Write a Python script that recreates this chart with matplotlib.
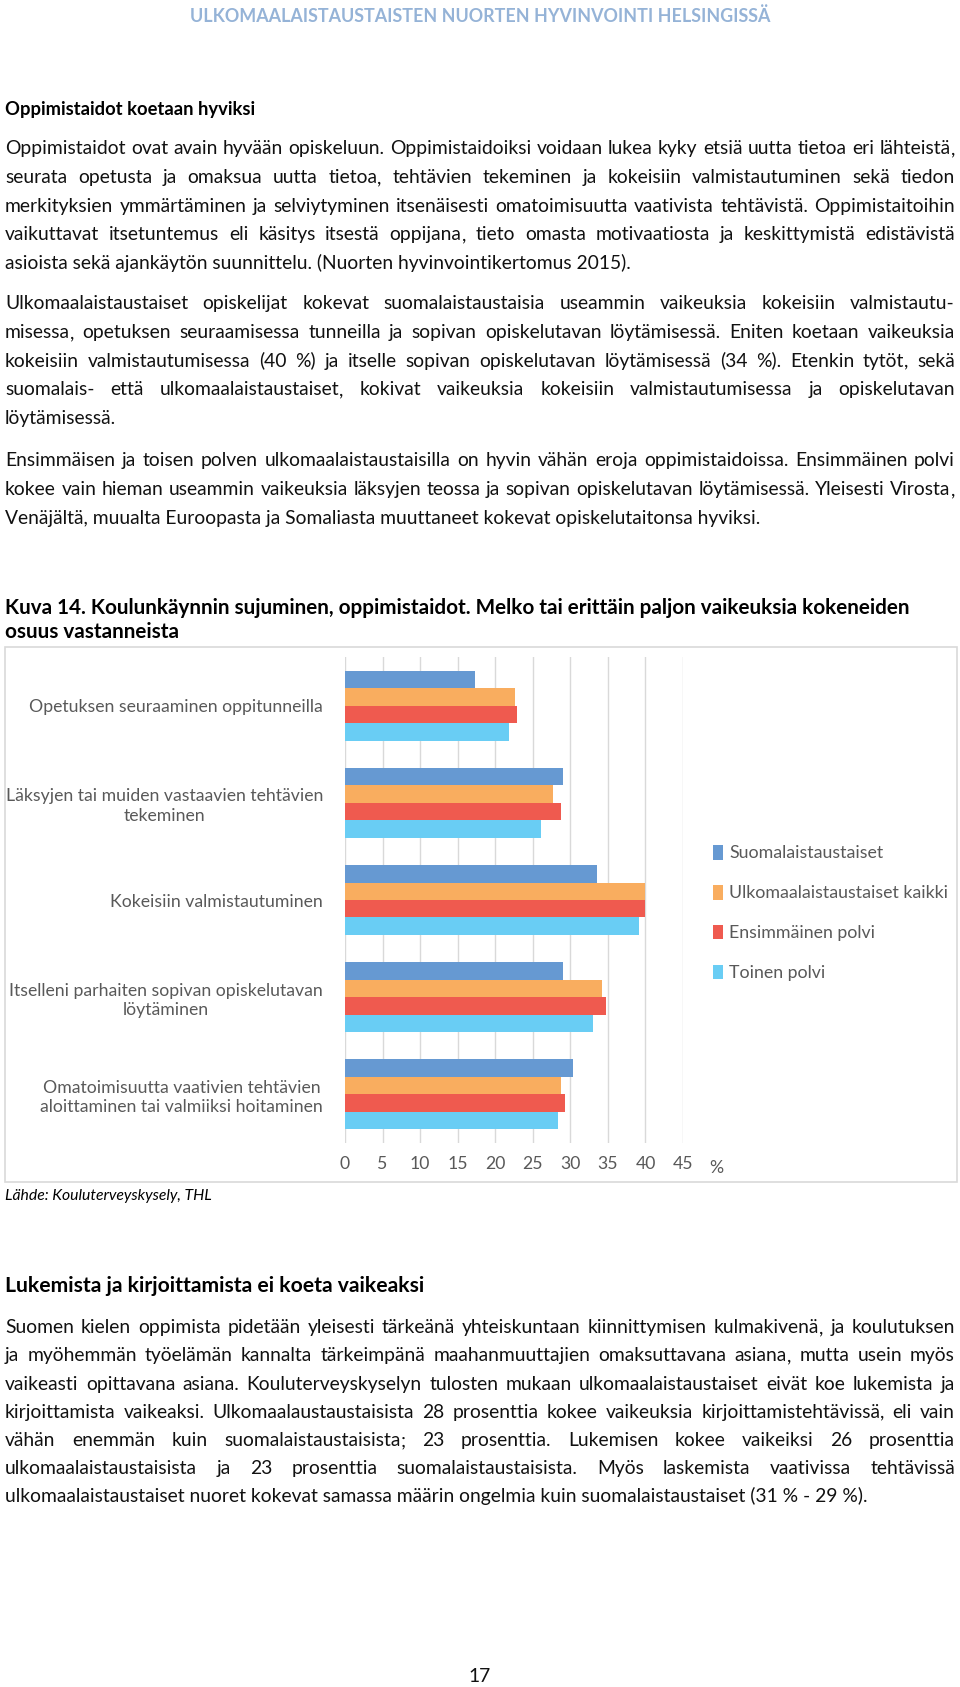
import matplotlib
matplotlib.use("Agg")
import matplotlib.pyplot as plt
from matplotlib.patches import Rectangle
import numpy as np

# Kaavion tiedot
categories = [
    "Opetuksen seuraaminen oppitunneilla",
    "Läksyjen tai muiden vastaavien tehtävien\ntekeminen",
    "Kokeisiin valmistautuminen",
    "Itselleni parhaiten sopivan opiskelutavan\nlöytäminen",
    "Omatoimisuutta vaativien tehtävien\naloittaminen tai valmiiksi hoitaminen",
]
series = ["Suomalaistaustaiset", "Ulkomaalaistaustaiset kaikki", "Ensimmäinen polvi", "Toinen polvi"]
suomalais = [17.3, 29.0, 33.6, 29.0, 30.3]
ulkomaalais = [22.6, 27.7, 40.0, 34.2, 28.8]
ensimmainen = [22.9, 28.7, 40.0, 34.7, 29.3]
toinen = [21.9, 26.1, 39.2, 33.0, 28.4]
colors = ["#6699D2", "#F9AD5F", "#EF5A4F", "#69CDF4"]
xticks = [0, 5, 10, 15, 20, 25, 30, 35, 40, 45]

# Sivun tekstit
header = "ULKOMAALAISTAUSTAISTEN NUORTEN HYVINVOINTI HELSINGISSÄ"
heading1 = "Oppimistaidot koetaan hyviksi"
para1 = [
    "Oppimistaidot ovat avain hyvään opiskeluun. Oppimistaidoiksi voidaan lukea kyky etsiä uutta tietoa eri lähteistä,",
    "seurata opetusta ja omaksua uutta tietoa, tehtävien tekeminen ja kokeisiin valmistautuminen sekä tiedon",
    "merkityksien ymmärtäminen ja selviytyminen itsenäisesti omatoimisuutta vaativista tehtävistä. Oppimistaitoihin",
    "vaikuttavat itsetuntemus eli käsitys itsestä oppijana, tieto omasta motivaatiosta ja keskittymistä edistävistä",
    "asioista sekä ajankäytön suunnittelu. (Nuorten hyvinvointikertomus 2015).",
]
para2 = [
    "Ulkomaalaistaustaiset opiskelijat kokevat suomalaistaustaisia useammin vaikeuksia kokeisiin valmistautu-",
    "misessa, opetuksen seuraamisessa tunneilla ja sopivan opiskelutavan löytämisessä. Eniten koetaan vaikeuksia",
    "kokeisiin valmistautumisessa (40 %) ja itselle sopivan opiskelutavan löytämisessä (34 %). Etenkin tytöt, sekä",
    "suomalais- että ulkomaalaistaustaiset, kokivat vaikeuksia kokeisiin valmistautumisessa ja opiskelutavan",
    "löytämisessä.",
]
para3 = [
    "Ensimmäisen ja toisen polven ulkomaalaistaustaisilla on hyvin vähän eroja oppimistaidoissa. Ensimmäinen polvi",
    "kokee vain hieman useammin vaikeuksia läksyjen teossa ja sopivan opiskelutavan löytämisessä. Yleisesti Virosta,",
    "Venäjältä, muualta Euroopasta ja Somaliasta muuttaneet kokevat opiskelutaitonsa hyviksi.",
]
caption = [
    "Kuva 14. Koulunkäynnin sujuminen, oppimistaidot. Melko tai erittäin paljon vaikeuksia kokeneiden",
    "osuus vastanneista",
]
source = "Lähde: Kouluterveyskysely, THL"
heading2 = "Lukemista ja kirjoittamista ei koeta vaikeaksi"
para4 = [
    "Suomen kielen oppimista pidetään yleisesti tärkeänä yhteiskuntaan kiinnittymisen kulmakivenä, ja koulutuksen",
    "ja myöhemmän työelämän kannalta tärkeimpänä maahanmuuttajien omaksuttavana asiana, mutta usein myös",
    "vaikeasti opittavana asiana. Kouluterveyskyselyn tulosten mukaan ulkomaalaistaustaiset eivät koe lukemista ja",
    "kirjoittamista vaikeaksi. Ulkomaalaustaustaisista 28 prosenttia kokee vaikeuksia kirjoittamistehtävissä, eli vain",
    "vähän enemmän kuin suomalaistaustaisista; 23 prosenttia. Lukemisen kokee vaikeiksi 26 prosenttia",
    "ulkomaalaistaustaisista ja 23 prosenttia suomalaistaustaisista. Myös laskemista vaativissa tehtävissä",
    "ulkomaalaistaustaiset nuoret kokevat samassa määrin ongelmia kuin suomalaistaustaiset (31 % - 29 %).",
]
page_no = "17"

plt.rcParams["font.family"] = "Lato"

W, H = 960, 1687
fig = plt.figure(figsize=(W / 100, H / 100), dpi=100)
page = fig.add_axes([0, 0, 1, 1])
page.set_xlim(0, W)
page.set_ylim(H, 0)
page.axis("off")
renderer = fig.canvas.get_renderer()


def text_width(s, size, **kw):
    t = page.text(0, 0, s, fontsize=size, **kw)
    w = t.get_window_extent(renderer).width
    t.remove()
    return w


def fit_size(s, width, **kw):
    return 10 * width / text_width(s, 10, **kw)


def put_word(x, yb, word, size, **kw):
    # pilkku ja puolipiste erikseen, jotta sanan perusviiva pysyy paikallaan
    if len(word) > 1 and word[-1] in ",;":
        core = word[:-1]
        page.text(x, yb, core, fontsize=size, va="baseline", ha="left", **kw)
        page.text(x + text_width(core, size, **kw), yb, word[-1], fontsize=size,
                  va="baseline", ha="left", **kw)
    else:
        page.text(x, yb, word, fontsize=size, va="baseline", ha="left", **kw)


def put_line(line, x0, yb, size, width=None, **kw):
    if width is None:
        page.text(x0, yb, line, fontsize=size, va="baseline", ha="left", **kw)
        return
    words = line.split(" ")
    ws = [text_width(w_, size, **kw) for w_ in words]
    gap = (width - sum(ws)) / (len(words) - 1)
    x = x0
    for w_, ww in zip(words, ws):
        put_word(x, yb, w_, size, **kw)
        x += ww + gap


def put_para(lines, y0, step, size, **kw):
    off = 0.32 * size * 100 / 72
    for i, line in enumerate(lines):
        last = i == len(lines) - 1
        put_line(line, 5, y0 + i * step + off, size, None if last else 950, **kw)


# tekstin koko niin, että tihein tasattu rivi mahtuu leveyteen
justified = [p[i] for p in (para1, para2, para3, para4) for i in range(len(p) - 1)]
body = min(fit_size(line, 948) for line in justified)
txt = "#111111"

# Ylätunniste
hs = fit_size(header, 579, fontweight="bold")
page.text(480, 16, header, fontsize=hs, fontweight="bold", color="#95B3D7", ha="center", va="center")

# Otsikot ja kappaleet
s1 = fit_size(heading1, 249, fontweight="bold")
put_line(heading1, 5, 109 + 0.32 * s1 * 100 / 72, s1, fontweight="bold", color="#000000")
put_para(para1, 148, 28.7, body, color=txt)
put_para(para2, 303, 28.7, body, color=txt)
put_para(para3, 460, 28.7, body, color=txt)

cs = fit_size(caption[0], 904, fontweight="bold")
for i, line in enumerate(caption):
    put_line(line, 5, 607 + i * 24 + 0.32 * cs * 100 / 72, cs, fontweight="bold", color="#000000")

# Kaavion kehys
page.add_patch(Rectangle((5, 647), 952, 535, fill=False, ec="#D9D9D9", lw=1.2))

# Kaavio
ax = fig.add_axes([345 / W, 1 - 1143 / H, 338 / W, 486 / H])
ax.set_facecolor("none")
y = np.arange(len(categories))
h = 0.18
for i, (vals, col, name) in enumerate(zip([suomalais, ulkomaalais, ensimmainen, toinen], colors, series)):
    ax.barh(y + (i - 1.5) * h, vals, height=h, color=col, label=name)
ax.set_xlim(0, 45)
ax.set_ylim(len(categories) - 0.5, -0.5)
ax.set_xticks(xticks)
ax.xaxis.grid(True, color="#D9D9D9", lw=1)
ax.set_axisbelow(True)
for s in ax.spines.values():
    s.set_visible(False)

ls = fit_size("Opetuksen seuraaminen oppitunneilla", 294)
ax.set_yticks(y, categories)
ax.tick_params(length=0, colors="#595959", labelsize=ls)
ax.tick_params(axis="y", pad=22 * 0.72)
ax.tick_params(axis="x", pad=13 * 0.72)
for lab in ax.get_yticklabels():
    lab.set_multialignment("center")
    lab.set_linespacing(1.25)
page.text(716, 1168, "%", fontsize=ls, color="#595959", ha="center", va="center")

lg_s = fit_size("Ulkomaalaistaustaiset kaikki", 218)
ax.legend(loc="center left", bbox_to_anchor=(713 / W, 1 - 913 / H), bbox_transform=fig.transFigure,
          frameon=False, fontsize=lg_s, labelcolor="#595959", handlelength=0.55, handleheight=0.9,
          handletextpad=0.35, labelspacing=1.32, borderpad=0, borderaxespad=0)

ss = fit_size(source, 208, style="italic")
put_line(source, 5, 1195 + 0.32 * ss * 100 / 72, ss, style="italic", color="#000000")

# Alaosa
s2 = fit_size(heading2, 421, fontweight="bold")
put_line(heading2, 5, 1285 + 0.32 * s2 * 100 / 72, s2, fontweight="bold", color="#000000")
put_para(para4, 1327, 28.2, body, color=txt)

page.text(480, 1677, page_no, fontsize=body, color=txt, ha="center", va="center")

fig.savefig("out.png", dpi=100)
